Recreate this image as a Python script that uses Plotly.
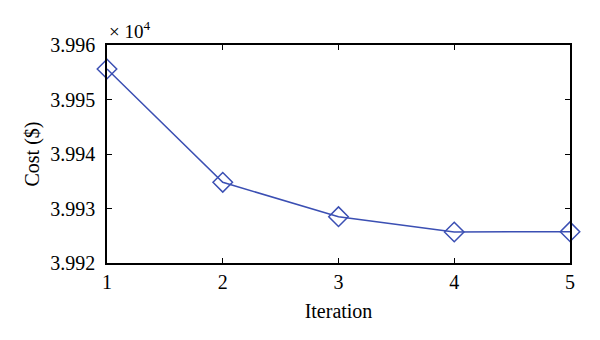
import plotly.graph_objects as go

# Cost per iteration (in $)
iterations = [1, 2, 3, 4, 5]
cost = [39955.6, 39934.8, 39928.5, 39925.7, 39925.75]

# Y axis shown in units of 10^4
scale = 1e4
y_ticks = [3.992, 3.993, 3.994, 3.995, 3.996]
y_labels = ["3.992", "3.993", "3.994", "3.995", "3.996"]

line_color = "#3b4fb3"
font_family = "Liberation Serif"

fig = go.Figure()
fig.add_trace(go.Scatter(
    x=iterations,
    y=[c / scale for c in cost],
    mode="lines+markers",
    line=dict(color=line_color, width=1.5),
    marker=dict(symbol="diamond-open", size=15, color=line_color,
                line=dict(color=line_color, width=1.5)),
    cliponaxis=False,
    showlegend=False,
))

tick_font = dict(family=font_family, size=20, color="black")
title_font = dict(family=font_family, size=20, color="black")

fig.update_xaxes(
    range=[1, 5], tickvals=iterations, ticktext=[str(i) for i in iterations],
    tickfont=tick_font, ticklabelstandoff=0,
    title=dict(text="Iteration", font=title_font, standoff=12),
    showline=True, linecolor="black", linewidth=1.5,
    mirror="ticks", ticks="inside", ticklen=5, tickwidth=1.2,
    tickcolor="black", showgrid=False, zeroline=False,
)
fig.update_yaxes(
    range=[3.992, 3.996], tickvals=y_ticks, ticktext=y_labels,
    tickfont=tick_font, ticklabelstandoff=6,
    title=dict(text="Cost ($)", font=title_font, standoff=5),
    showline=True, linecolor="black", linewidth=1.5,
    mirror="ticks", ticks="inside", ticklen=5, tickwidth=1.2,
    tickcolor="black", showgrid=False, zeroline=False,
)

fig.add_annotation(
    x=0, y=1, xref="paper", yref="paper", xanchor="left", yanchor="bottom",
    text="× 10<sup>4</sup>", showarrow=False, yshift=1,
    font=dict(family=font_family, size=19, color="black"),
)

fig.update_layout(
    width=600, height=340,
    margin=dict(l=107, r=30, t=45, b=77),
    paper_bgcolor="white", plot_bgcolor="white",
    font=dict(family=font_family, size=20, color="black"),
)

fig.write_html("out.html")
